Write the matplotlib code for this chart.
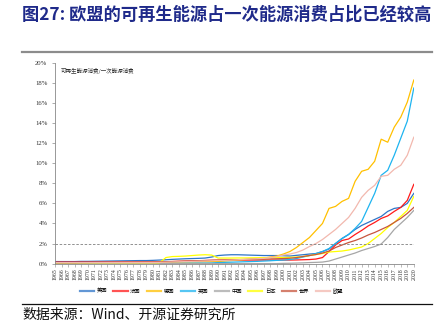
import matplotlib
matplotlib.use("Agg")
import matplotlib.pyplot as plt
import numpy as np

years = list(range(1965, 2021))

# 56 values each, 1965..2020 (%)
us = [0.20, 0.20, 0.20, 0.20, 0.22, 0.22, 0.23, 0.24,
      0.25, 0.26, 0.27, 0.28, 0.29, 0.30, 0.30, 0.32,
      0.35, 0.38, 0.42, 0.45, 0.48, 0.50, 0.52, 0.55, 0.65,
      0.80, 0.85, 0.88, 0.88, 0.86, 0.84, 0.82, 0.80, 0.80, 0.80,
      0.78, 0.75, 0.82, 0.88, 0.95, 1.00, 1.20, 1.45, 2.00, 2.50,
      2.90, 3.40, 3.80, 4.10, 4.40, 4.70, 5.20, 5.50, 5.60, 6.00, 7.00]
france = [0.15] * 16 + [0.17, 0.18, 0.20, 0.22, 0.24, 0.26, 0.28, 0.30, 0.32,
      0.33, 0.34, 0.35, 0.35, 0.35, 0.35, 0.35, 0.35, 0.35, 0.35,
      0.35, 0.35, 0.36, 0.38, 0.40, 0.45, 0.60, 1.20, 1.85, 2.30,
      2.45, 2.90, 3.30, 3.75, 4.10, 4.50, 4.75, 5.20, 5.60, 6.30, 7.90]
germany = [0.05] * 16 + [0.08, 0.10, 0.12, 0.14, 0.15, 0.16, 0.17, 0.18, 0.19,
      0.20, 0.25, 0.30, 0.35, 0.40, 0.45, 0.50, 0.55, 0.65, 0.75,
      0.95, 1.20, 1.60, 2.10, 2.60, 3.30, 4.00, 5.50, 5.70, 6.20,
      6.50, 8.20, 9.20, 9.40, 10.20, 12.40, 12.10, 13.60, 14.60, 16.10, 18.30]
uk = [0.02] * 16 + [0.02, 0.02, 0.03, 0.03, 0.04, 0.04, 0.05, 0.05, 0.06,
      0.10, 0.12, 0.14, 0.16, 0.18, 0.20, 0.22, 0.25, 0.28, 0.32,
      0.35, 0.40, 0.50, 0.65, 0.80, 1.00, 1.20, 1.50, 2.00, 2.50,
      2.90, 3.50, 4.20, 5.60, 7.00, 8.80, 9.30, 10.80, 12.50, 14.20, 17.50]
china = [0.00] * 35 + [0.02, 0.03, 0.05, 0.07, 0.10, 0.12, 0.15, 0.25, 0.45, 0.65,
      0.85, 1.05, 1.30, 1.50, 1.70, 1.95, 2.60, 3.40, 4.00, 4.60, 5.30]
japan = [0.08] * 17 + [0.60, 0.70, 0.72, 0.75, 0.80, 0.85, 0.88, 0.85,
      0.55, 0.55, 0.55, 0.56, 0.56, 0.57, 0.58, 0.58, 0.59, 0.60,
      0.60, 0.62, 0.65, 0.70, 0.80, 0.90, 1.00, 1.15, 1.20, 1.25,
      1.35, 1.50, 1.65, 2.00, 2.50, 3.00, 3.60, 4.10, 4.70, 5.30, 6.70]
world = [0.10, 0.10, 0.10, 0.10, 0.11, 0.11, 0.12, 0.12,
      0.12, 0.13, 0.13, 0.14, 0.14, 0.15, 0.15, 0.15,
      0.17, 0.19, 0.21, 0.23, 0.25, 0.27, 0.29, 0.31, 0.33,
      0.35, 0.37, 0.38, 0.39, 0.40, 0.42, 0.43, 0.44, 0.46, 0.48,
      0.50, 0.53, 0.60, 0.70, 0.80, 0.90, 1.05, 1.25, 1.60, 1.85,
      2.10, 2.30, 2.55, 2.85, 3.10, 3.40, 3.70, 4.10, 4.50, 5.00, 5.60]
eu = [0.10] * 16 + [0.12, 0.14, 0.16, 0.18, 0.20, 0.22, 0.24, 0.26, 0.28,
      0.30, 0.32, 0.35, 0.38, 0.42, 0.45, 0.48, 0.52, 0.60, 0.70,
      0.85, 0.95, 1.10, 1.35, 1.70, 2.00, 2.40, 2.90, 3.40, 4.00,
      4.60, 5.50, 6.60, 7.30, 7.80, 8.70, 8.80, 9.40, 9.80, 10.80, 12.60]

names = ["美国", "法国", "德国", "英国", "中国", "日本", "世界", "欧盟"]
colors = ["#2E75C8", "#FF1A1A", "#FFC000", "#1EB4F0", "#A6A6A6", "#FFFF00", "#C8553D", "#F2B8AE"]
series = [us, france, germany, uk, china, japan, world, eu]
ylabels = ["0%", "2%", "4%", "6%", "8%", "10%", "12%", "14%", "16%", "18%", "20%"]

cjk = ["Noto Sans CJK SC", "DejaVu Sans"]
serif = ["Liberation Serif", "DejaVu Serif"]

fig = plt.figure(figsize=(4.44, 3.23), dpi=100)
ax = fig.add_axes([0.124, 0.184, 0.808, 0.621])

for s, n, c in zip(series, names, colors):
    ax.plot(years, s, color=c, lw=0.9, label=n)

ax.axhline(2, color="#808080", lw=0.6, ls=(0, (3, 2)))

ax.set_xlim(1965, 2020)
ax.set_ylim(0, 20)
ax.set_yticks(range(0, 21, 2))
ax.set_yticklabels(ylabels, fontfamily=serif, fontsize=4.8, color="#333333")
ax.set_xticks(years)
ax.set_xticklabels([str(y) for y in years], rotation=90, fontfamily=serif,
                   fontsize=4.2, color="#333333")
ax.tick_params(axis="y", length=2.5, width=0.5, color="#888888", pad=3)
ax.tick_params(axis="x", length=2, width=0.4, color="#888888", pad=1.5)
for sp in ["top", "right"]:
    ax.spines[sp].set_visible(False)
for sp in ["left", "bottom"]:
    ax.spines[sp].set_color("#888888")
    ax.spines[sp].set_linewidth(0.6)

ax.text(0.015, 0.975, "可再生能源消费/一次能源消费", transform=ax.transAxes,
        fontfamily=cjk, fontsize=4.0, color="#333333", va="top", ha="left")

leg = fig.legend(loc="center", bbox_to_anchor=(0.476, 0.099), ncol=8, frameon=False,
                 prop={"family": cjk, "size": 3.8}, handlelength=2.7,
                 columnspacing=1.2, handletextpad=0.5)
for h in leg.get_lines():
    h.set_linewidth(1.6)
    h.set_alpha(0.75)

fig.text(0.05, 0.955, "图27: 欧盟的可再生能源占一次能源消费占比已经较高",
         fontfamily=cjk, fontsize=12.4, fontweight="bold", color="#1F2A8A",
         va="center", ha="left")
fig.add_artist(plt.Line2D([0.05, 0.973], [0.84, 0.84], color="#8C8C8C", lw=1.6,
                          transform=fig.transFigure))
fig.add_artist(plt.Line2D([0.05, 0.973], [0.059, 0.059], color="#111111", lw=0.9,
                          transform=fig.transFigure))
fig.text(0.05, 0.025, "数据来源：Wind、开源证券研究所", fontfamily=cjk, fontsize=10,
         color="#111111", va="center", ha="left")

fig.savefig("out.png", dpi=100)
